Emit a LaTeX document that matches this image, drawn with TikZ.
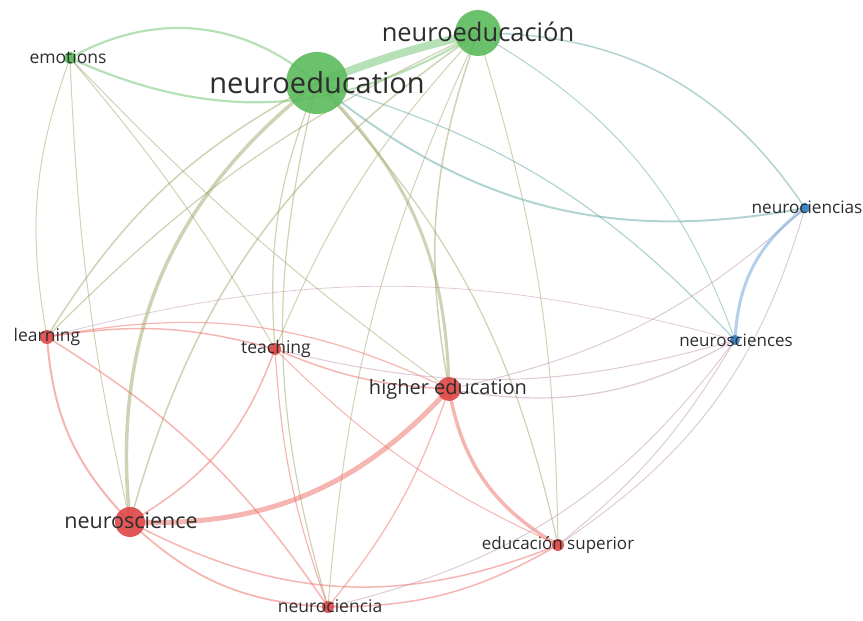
\documentclass[tikz,border=0pt]{standalone}
\usepackage{fontspec}
\setmainfont{Open Sans}
\definecolor{gN}{RGB}{92,186,92}
\definecolor{rN}{RGB}{222,70,70}
\definecolor{bN}{RGB}{50,125,195}
\definecolor{gE}{RGB}{110,195,110}
\definecolor{rE}{RGB}{236,110,100}
\definecolor{bE}{RGB}{105,160,215}
\definecolor{oE}{RGB}{160,165,105}
\definecolor{tE}{RGB}{100,170,165}
\definecolor{pE}{RGB}{190,150,175}
\definecolor{txt}{RGB}{45,45,45}
\tikzset{
  lk/.style={line width=#1, opacity=.5},
  dot/.style={circle, inner sep=0pt, minimum size=#1, opacity=.9},
  lbl/.style={text=txt, inner sep=0pt}
}
\newcommand\lk[5]{\draw[lk=#2, draw=#1] (#3) to[#5] (#4);}
\begin{document}
\begin{tikzpicture}[x=1pt,y=1pt]
\useasboundingbox (0,0) rectangle (863,621);
% positions
\coordinate (emo) at (70,563);
\coordinate (na) at (317,538);
\coordinate (nb) at (478,588);
\coordinate (ncs) at (805,413);
\coordinate (nsi) at (735,281);
\coordinate (lea) at (47,284);
\coordinate (tea) at (275,272);
\coordinate (he) at (449,232);
\coordinate (nsc) at (130,99);
\coordinate (es) at (558,76);
\coordinate (nci) at (328,14);
% green links
\lk{gE}{2.2}{emo}{na}{bend left=35}
\lk{gE}{2.2}{emo}{nb}{bend right=28}
\lk{gE}{8}{na}{nb}{bend left=4}
\lk{tE}{1.5}{nb}{ncs}{bend left=28}
\lk{tE}{2}{na}{ncs}{bend right=25}
\lk{oE}{1.5}{na}{lea}{bend right=15}
\lk{oE}{3.5}{na}{nsc}{bend right=29}
\lk{oE}{1.2}{na}{tea}{bend right=13}
\lk{oE}{3}{na}{he}{bend left=22}
\lk{oE}{1.2}{na}{nci}{bend right=15}
\lk{oE}{1.2}{na}{es}{bend left=15}
\lk{tE}{1.2}{na}{nsi}{bend left=15}
\lk{oE}{1.2}{nb}{lea}{bend right=10}
\lk{oE}{1.5}{nb}{nsc}{bend right=20}
\lk{oE}{1}{nb}{tea}{bend right=10}
\lk{oE}{1.5}{nb}{he}{bend right=15}
\lk{oE}{1}{nb}{nci}{bend right=10}
\lk{oE}{1}{nb}{es}{bend left=8}
\lk{tE}{1}{nb}{nsi}{bend left=20}
\lk{oE}{1}{emo}{lea}{bend right=15}
\lk{oE}{1}{emo}{nsc}{bend right=5}
\lk{oE}{1}{emo}{tea}{bend left=5}
\lk{oE}{1}{emo}{he}{bend right=5}
% red links
\lk{rE}{1.5}{lea}{tea}{bend left=12}
\lk{rE}{1.2}{lea}{he}{bend left=18}
\lk{rE}{2}{lea}{nsc}{bend right=20}
\lk{rE}{1.5}{lea}{nci}{bend left=12}
\lk{pE}{0.8}{lea}{nsi}{bend left=15}
\lk{rE}{1.5}{tea}{nsc}{bend left=20}
\lk{rE}{1.5}{tea}{he}{bend right=10}
\lk{pE}{1}{tea}{nsi}{bend right=15}
\lk{rE}{1}{tea}{es}{bend right=10}
\lk{rE}{1.2}{tea}{nci}{bend right=8}
\lk{rE}{5}{nsc}{he}{bend right=25}
\lk{rE}{1.8}{nsc}{nci}{bend right=20}
\lk{rE}{1.5}{nsc}{es}{bend right=25}
\lk{rE}{3.5}{he}{es}{bend right=25}
\lk{rE}{1.2}{he}{nci}{bend left=10}
\lk{pE}{1.2}{he}{nsi}{bend right=20}
\lk{pE}{1}{he}{ncs}{bend right=15}
\lk{rE}{1.5}{nci}{es}{bend right=15}
\lk{pE}{1}{es}{nsi}{bend right=10}
\lk{pE}{1}{es}{ncs}{bend right=20}
\lk{pE}{1}{nci}{nsi}{bend right=20}
% blue links
\lk{bE}{3}{ncs}{nsi}{bend right=25}
% circles
\node[dot=12pt, fill=gN] (cemo) at (emo) {};
\node[dot=62pt, fill=gN] (cna) at (na) {};
\node[dot=46pt, fill=gN] (cnb) at (nb) {};
\node[dot=10pt, fill=bN] (cncs) at (ncs) {};
\node[dot=10pt, fill=bN] (cnsi) at (nsi) {};
\node[dot=14pt, fill=rN] (clea) at (lea) {};
\node[dot=12pt, fill=rN] (ctea) at (tea) {};
\node[dot=24pt, fill=rN] (che) at (he) {};
\node[dot=30pt, fill=rN] (cnsc) at (nsc) {};
\node[dot=12pt, fill=rN] (ces) at (es) {};
\node[dot=12pt, fill=rN] (cnci) at (nci) {};
% labels
\node[lbl, font=\fontsize{17.5}{17.5}\selectfont] (temo) at (68,564) {emotions};
\node[lbl, font=\fontsize{29}{29}\selectfont] (tna) at (317,538) {neuroeducation};
\node[lbl, font=\fontsize{25.5}{25.5}\selectfont] (tnb) at (478,589) {neuroeducación};
\node[lbl, font=\fontsize{17.2}{17.2}\selectfont] (tncs) at (807,414) {neurociencias};
\node[lbl, font=\fontsize{17}{17}\selectfont] (tnsi) at (736,281) {neurosciences};
\node[lbl, font=\fontsize{17.5}{17.5}\selectfont] (tlea) at (47,284) {learning};
\node[lbl, font=\fontsize{17.5}{17.5}\selectfont] (ttea) at (276,272) {teaching};
\node[lbl, font=\fontsize{20}{20}\selectfont] (the) at (448,232) {higher education};
\node[lbl, font=\fontsize{21.5}{21.5}\selectfont] (tnsc) at (131,100) {neuroscience};
\node[lbl, font=\fontsize{17}{17}\selectfont] (tes) at (558,76) {educación superior};
\node[lbl, font=\fontsize{17.5}{17.5}\selectfont] (tnci) at (330,15) {neurociencia};
\end{tikzpicture}
\end{document}
